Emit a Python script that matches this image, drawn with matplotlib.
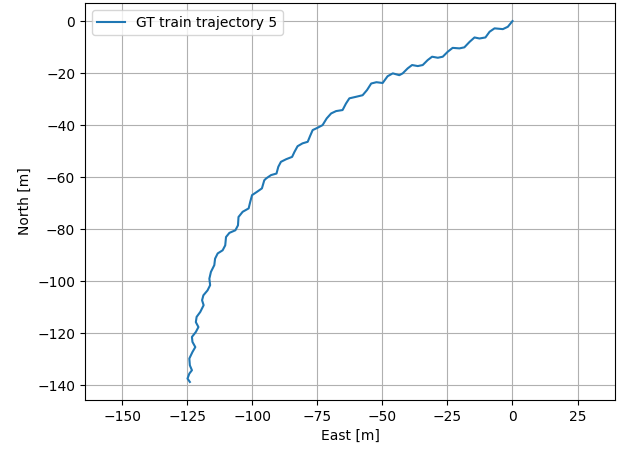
import numpy as np
import matplotlib
matplotlib.use("Agg")
import matplotlib.pyplot as plt

# GT train trajectory 5 (metres)
east = [
    0.0, -1.8, -3.7, -6.9, -8.8, -10.4, -12.7, -14.6, -16.5, -18.5,
    -20.4, -23.0, -24.9, -26.8, -28.7, -30.9, -32.6, -34.5, -36.4, -38.6,
    -40.3, -42.2, -43.5, -46.0, -48.0, -49.9, -52.3, -54.3, -55.9, -57.6,
    -60.1, -62.7, -64.0, -65.3, -67.8, -69.7, -71.4, -73.0, -74.9, -76.8,
    -77.8, -78.7, -80.7, -82.6, -83.8, -84.7, -87.0, -89.0, -90.0, -90.7,
    -92.8, -94.7, -95.4, -96.3, -98.3, -100.1, -100.8, -101.4, -103.7, -105.3,
    -105.5, -106.5, -108.8, -110.1, -110.4, -111.4, -113.3, -114.3, -114.6, -115.9,
    -116.5, -116.2, -117.2, -118.8, -119.3, -118.7, -120.0, -121.4, -121.7, -120.7,
    -121.7, -123.2, -123.0, -121.9, -123.0, -124.2, -124.0, -123.2, -124.2, -124.9,
    -124.0,
]
north = [
    0.0, -2.2, -3.1, -2.8, -4.1, -6.3, -6.7, -6.3, -8.0, -10.1,
    -10.5, -10.3, -11.8, -13.7, -14.1, -13.7, -15.0, -16.9, -17.3, -16.9,
    -18.2, -20.1, -20.8, -20.1, -21.2, -23.8, -23.5, -24.0, -26.5, -28.5,
    -29.1, -29.7, -31.7, -34.2, -34.6, -35.5, -37.4, -40.0, -41.0, -41.9,
    -44.2, -46.4, -47.0, -48.1, -50.3, -52.2, -53.1, -54.1, -56.0, -58.6,
    -59.2, -60.5, -61.2, -64.3, -65.7, -66.9, -69.5, -72.0, -73.3, -75.3,
    -78.5, -80.4, -81.4, -83.0, -86.2, -88.1, -89.3, -91.3, -93.8, -96.4,
    -99.0, -101.5, -103.5, -105.4, -107.3, -109.2, -111.8, -113.7, -115.7, -117.6,
    -119.5, -121.4, -123.3, -125.3, -127.2, -129.7, -132.3, -134.2, -135.5, -137.4,
    -138.7,
]

fig, ax = plt.subplots(figsize=(6.23, 4.5), dpi=100)
fig.subplots_adjust(left=0.1364, right=0.9872, bottom=0.1111, top=0.9933)

ax.plot(east, north, label="GT train trajectory 5")
ax.set_aspect("equal", adjustable="datalim")
ax.set_xlabel("East [m]")
ax.set_ylabel("North [m]")
ax.grid(True)
ax.legend(loc="upper left")

plt.savefig("out.png")
